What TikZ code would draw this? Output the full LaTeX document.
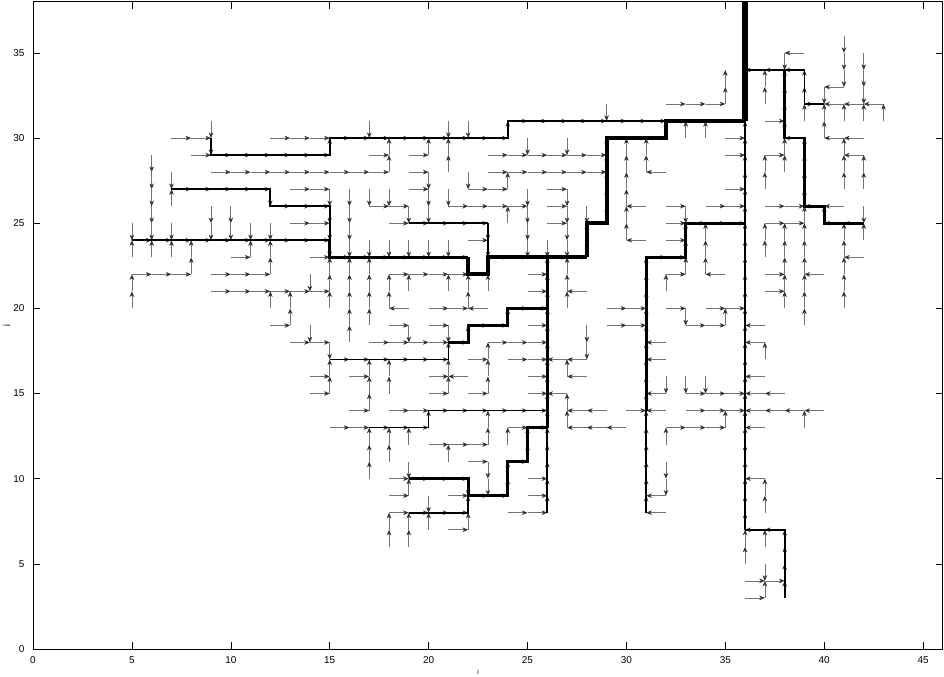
\documentclass[tikz,border=0pt]{standalone}
\usepackage{fontspec}
\setmainfont{Liberation Sans}
\usetikzlibrary{arrows.meta}
\begin{document}
\begin{tikzpicture}[x=0.5934cm,y=0.5109cm,
  ar/.style={draw=black!55, line width=0.6pt, -{Stealth[length=4.8pt,width=3.9pt,inset=1.4pt,color=black!80]}},
  sA/.style={line width=1.5pt, line join=miter},
  sB/.style={line width=2.3pt, line join=miter},
  sC/.style={line width=3.4pt, line join=miter},
  sD/.style={line width=5.5pt, line join=miter},
  tk/.style={line width=0.5pt},
  tl/.style={font=\fontsize{8.5}{10}\selectfont}]
\useasboundingbox (-1.6684,-1.644) rectangle (46.057,38.109);
\fill[white] (-1.6684,-1.644) rectangle (46.057,38.109);
% ---------- flow arrows ----------
% east
\foreach \j/\L in {32/{32,33,34},31/{24,25,26,27,28,29,30,31,32,33,34,35,37},
 30/{7,8,12,13,14,15,16,17,18,19,20,21,22,23,29,30,31,35},
 29/{8,9,10,11,12,13,14,17,19,23,24,25,26,27,28,35,37},
 28/{9,10,11,12,13,14,15,16,17,19,23,24,25,26,27,28},
 27/{7,8,9,10,11,13,14,19,22,23,26,35},
 26/{12,13,14,17,18,21,22,23,24,26,32,34,35,37,38},
 25/{13,14,18,19,20,21,22,26,28,32,33,34,35,37,38},
 24/{5,6,7,8,9,10,11,12,13,14,22,32},
 23/{10,14,15,16,17,18,19,20,21,23,24,25,26,27,31,32},
 22/{5,6,7,9,10,11,18,19,20,21,22,25,32,37},
 21/{9,10,11,12,13,14,25,37},
 20/{20,21,24,25,29,30,32,34,35},
 19/{12,18,20,22,23,25,29,30,33,34},
 18/{13,14,17,18,19,20,21,23,24,25},
 17/{15,16,17,18,19,20,22,24,25},
 16/{14,16,20,25},
 15/{14,20,22,25,33,34,35},
 14/{16,18,19,20,21,22,23,24,25,30,33,34,35},
 13/{15,16,17,18,19,24,25,32,33,34},
 12/{20,21,22},11/{22,24},10/{18,19,20,21,25},9/{18,21,22,23,25},
 8/{18,19,20,21,24,25},7/{21},4/{36,37},3/{36}}
 {\foreach \i in \L {\draw[ar] (\i,\j)--++(1,0);}}
% west
\foreach \j/\L in {35/{39},34/{37,38,39},33/{41},32/{40,41,42,43},30/{39,41,42},
 29/{42},28/{32},26/{31,40,41},25/{41,42},24/{31},23/{42},22/{35,40},21/{28},
 20/{19,23},19/{37},18/{32,37},17/{27,28,32},16/{22,28,37},15/{27,32,37,38},
 14/{28,29,32,37,38,39,40},13/{28,29,30,37},10/{37},9/{32},8/{32},7/{37,38}}
 {\foreach \i in \L {\draw[ar] (\i,\j)--++(-1,0);}}
% north
\foreach \i/\L in {5/{20,21,23},6/{23},7/{23,26},8/{22,23},11/{23},12/{20,22,23},
 13/{19,20},15/{15,16,20,21,22,29},16/{18,19,20,21,22},
 17/{10,11,12,14,15,16,19,20,21,22},18/{6,7,11,12,15,16,20,21,28,29},
 19/{6,7,9,12,21},20/{7,13,29},21/{11,15,16,17,21,28,29},22/{7,8,18,20,21},
 23/{12,13,15,16,17,21,22},24/{9,10,12,19,25,27,30},25/{11,12},
 26/{8,9,10,11,12,13,14,15,16,17,18,19,20,21,22},27/{13,14,16,20,21,22},
 28/{23,24},29/{25,26,27,28,29},30/{24,25,26,27,28,29},
 31/{8,9,10,11,12,13,14,15,16,17,18,19,20,21,22,28,29},32/{12,21,30},
 33/{22,23,24,30},34/{22,23,24,30},35/{13,19,32,33},
 36/{5,6,7,8,9,10,11,12,13,14,15,16,17,18,19,20,21,22,23,24,25,26,27,28,29,30,31,32,33,34,35,36,37},
 37/{3,6,8,9,17,23,24,27,28,32,33},38/{3,4,5,6,20,21,22,23,24,28,29,30,31,32,33},
 39/{13,19,20,21,22,23,24,25,26,27,28,29,31,32,33},40/{25,30,31},
 41/{20,21,22,23,24,27,28,29,31},42/{24,27,28,31},43/{31}}
 {\foreach \j in \L {\draw[ar] (\i,\j)--++(0,1);}}
% south
\foreach \i/\L in {5/{25},6/{25,26,27,28,29},7/{25,28},9/{25,26,30,31},10/{25,26},
 11/{25},12/{25,27},14/{19,22},15/{18,24,25,26,27},16/{24,25,26,27},
 17/{24,27,31},18/{24,27},19/{11,19,24,26},20/{9,24,26,27,28},21/{19,24,27,31},
 22/{10,23,28,31},23/{10,11,24,25},25/{24,25,26,27,30},26/{24},
 27/{24,25,26,27,30},28/{18,19,26},29/{32},32/{10,11,16},33/{16,20,26},34/{16},
 37/{5},38/{35},40/{33},41/{34,35,36},42/{26,33,34,35}}
 {\foreach \j in \L {\draw[ar] (\i,\j)--++(0,-1);}}
% ---------- stream network (black) ----------
\draw[sD] (36,31)--(36,38);
\draw[sC] (28,23)--(28,25)--(29,25)--(29,30)--(32,30)--(32,31)--(36,31);
\draw[sC] (22,23)--(22,22)--(23,22)--(23,23)--(28,23);
\draw[sB] (15,24)--(15,23)--(22,23);
\draw[sB] (36,7)--(36,31);
\draw[sB] (26,13)--(26,23);
\draw[sB] (23,25)--(23,23);
\draw[sB] (21,18)--(22,18)--(22,19)--(24,19)--(24,20)--(26,20);
\draw[sB] (36,34)--(38,34)--(38,30)--(39,30)--(39,26)--(40,26)--(40,25)--(42,25);
\draw[sB] (31,14)--(31,23)--(33,23)--(33,25)--(36,25);
\draw[sB] (19,10)--(22,10)--(22,9)--(24,9)--(24,11)--(25,11)--(25,13)--(26,13);
\draw[sA] (5,24)--(15,24);
\draw[sA] (7,27)--(12,27)--(12,26)--(15,26)--(15,24);
\draw[sA] (9,30)--(9,29)--(15,29)--(15,30)--(24,30)--(24,31)--(32,31);
\draw[sA] (15,17)--(21,17)--(21,18);
\draw[sA] (17,13)--(20,13)--(20,14)--(26,14);
\draw[sA] (19,25)--(23,25);
\draw[sA] (38,34)--(39,34)--(39,32)--(40,32);
\draw[sA] (36,7)--(38,7)--(38,3);
\draw[sA] (26,8)--(26,13);
\draw[sA] (31,8)--(31,14);
\draw[sA] (19,8)--(22,8)--(22,9);
% ---------- axes ----------
\draw[line width=0.7pt] (0,0) rectangle (46,38);
\foreach \x in {0,5,...,45}{
  \draw[tk] (\x,0)--(\x,0.4) (\x,38)--(\x,37.6);
  \node[tl] (xl\x) at (\x,-0.68) {\x};}
\foreach \y in {0,5,...,35}{
  \draw[tk] (0,\y)--(0.33,\y) (46,\y)--(45.67,\y);
  \node[tl,anchor=east] (yl\y) at (-0.22,\y) {\y};}
\node[font=\fontsize{6}{7}\selectfont] (xlab) at (22.5,-1.35) {i};
\node[font=\fontsize{7}{8}\selectfont,rotate=90] (ylab) at (-1.35,19) {j};
\end{tikzpicture}
\end{document}
